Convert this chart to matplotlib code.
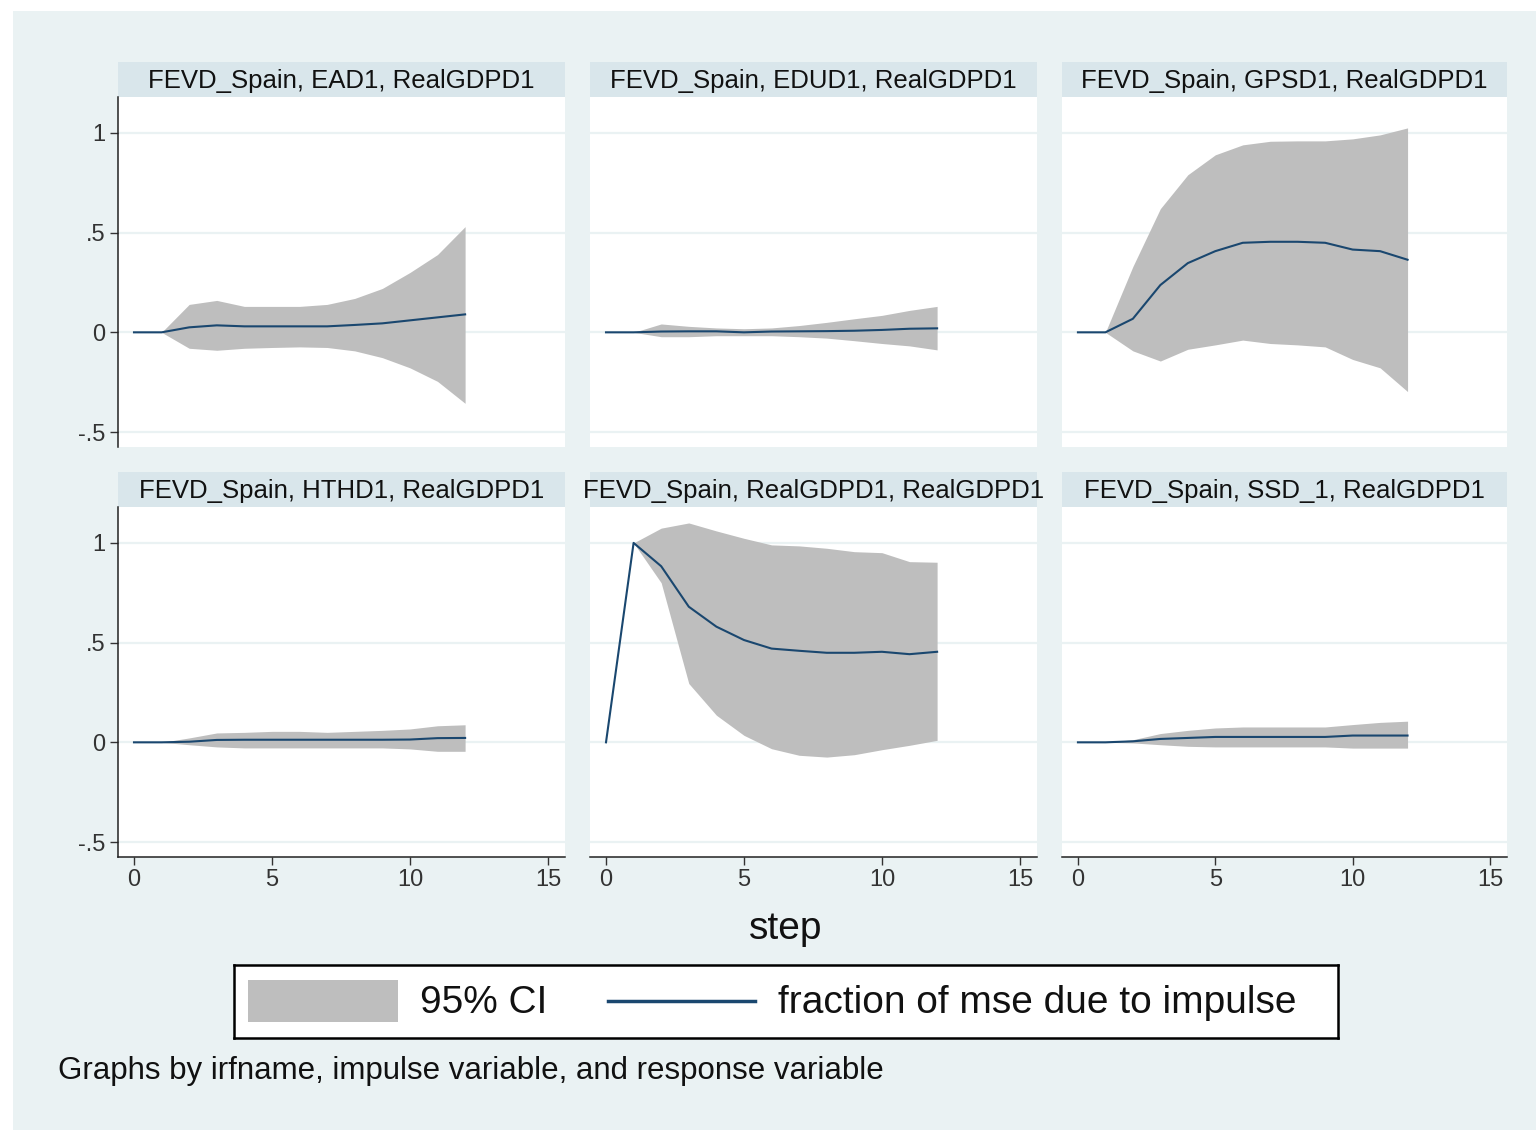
import matplotlib
matplotlib.use("Agg")
import matplotlib.pyplot as plt
from matplotlib.patches import Rectangle
from matplotlib.lines import Line2D

plt.rcParams['font.family'] = ['Liberation Sans', 'DejaVu Sans']

# ---------------- data ----------------
steps = list(range(0, 13))
ci_steps = list(range(1, 13))

titles = ["FEVD_Spain, EAD1, RealGDPD1", "FEVD_Spain, EDUD1, RealGDPD1",
          "FEVD_Spain, GPSD1, RealGDPD1", "FEVD_Spain, HTHD1, RealGDPD1",
          "FEVD_Spain, RealGDPD1, RealGDPD1", "FEVD_Spain, SSD_1, RealGDPD1"]

ead_fevd = [0, 0, 0.025, 0.035, 0.03, 0.03, 0.03, 0.03, 0.037, 0.045, 0.06, 0.075, 0.09]
ead_hi = [0, 0.14, 0.16, 0.13, 0.13, 0.13, 0.14, 0.17, 0.22, 0.30, 0.39, 0.53]
ead_lo = [0, -0.08, -0.09, -0.08, -0.076, -0.073, -0.076, -0.093, -0.127, -0.178, -0.246, -0.356]

edu_fevd = [0, 0, 0.004, 0.005, 0.005, 0.0, 0.004, 0.005, 0.006, 0.008, 0.012, 0.018, 0.02]
edu_hi = [0, 0.042, 0.03, 0.022, 0.018, 0.022, 0.034, 0.05, 0.068, 0.085, 0.11, 0.13]
edu_lo = [0, -0.022, -0.022, -0.017, -0.017, -0.017, -0.022, -0.029, -0.042, -0.056, -0.068, -0.088]

gps_fevd = [0, 0, 0.068, 0.237, 0.347, 0.407, 0.449, 0.454, 0.454, 0.449, 0.415, 0.407, 0.364]
gps_hi = [0, 0.33, 0.62, 0.79, 0.89, 0.94, 0.958, 0.96, 0.96, 0.97, 0.99, 1.025]
gps_lo = [0, -0.093, -0.144, -0.085, -0.063, -0.039, -0.056, -0.063, -0.073, -0.136, -0.178, -0.297]

hth_fevd = [0, 0, 0.003, 0.012, 0.013, 0.013, 0.013, 0.013, 0.013, 0.013, 0.014, 0.021, 0.022]
hth_hi = [0, 0.022, 0.047, 0.05, 0.055, 0.055, 0.05, 0.055, 0.06, 0.067, 0.083, 0.088]
hth_lo = [0, -0.012, -0.023, -0.028, -0.028, -0.028, -0.028, -0.028, -0.028, -0.033, -0.045, -0.045]

gdp_fevd = [0, 1.0, 0.883, 0.68, 0.58, 0.513, 0.47, 0.459, 0.449, 0.449, 0.454, 0.442, 0.454]
gdp_hi = [1.0, 1.074, 1.10, 1.06, 1.023, 0.99, 0.985, 0.973, 0.956, 0.951, 0.906, 0.903]
gdp_lo = [1.0, 0.80, 0.295, 0.136, 0.035, -0.032, -0.065, -0.074, -0.062, -0.037, -0.015, 0.01]

ssd_fevd = [0, 0, 0.005, 0.017, 0.022, 0.027, 0.027, 0.027, 0.027, 0.027, 0.034, 0.034, 0.034]
ssd_hi = [0, 0.013, 0.044, 0.06, 0.072, 0.077, 0.077, 0.077, 0.077, 0.089, 0.1, 0.106]
ssd_lo = [0, -0.003, -0.012, -0.02, -0.023, -0.023, -0.023, -0.023, -0.023, -0.029, -0.029, -0.029]

fevd = [ead_fevd, edu_fevd, gps_fevd, hth_fevd, gdp_fevd, ssd_fevd]
hi = [ead_hi, edu_hi, gps_hi, hth_hi, gdp_hi, ssd_hi]
lo = [ead_lo, edu_lo, gps_lo, hth_lo, gdp_lo, ssd_lo]

yticks = [-0.5, 0, 0.5, 1]
ytick_labels = ["-.5", "0", ".5", "1"]
xticks = [0, 5, 10, 15]
xtick_labels = ["0", "5", "10", "15"]

# ---------------- style ----------------
W, H = 1536, 1130
BG = "#EAF2F3"
STRIP = "#D9E6EB"
CI_COL = "#BEBEBE"
LINE_COL = "#1A476F"

fig = plt.figure(figsize=(W / 100, H / 100), dpi=100)
fig.patch.set_facecolor(BG)


def rect(x0, y0, x1, y1):
    return [x0 / W, 1 - y1 / H, (x1 - x0) / W, (y1 - y0) / H]


# white outer margins (top and left)
fig.patches.append(Rectangle((0, 1 - 11 / H), 1, 11 / H, transform=fig.transFigure,
                             facecolor="white", edgecolor="none", zorder=0))
fig.patches.append(Rectangle((0, 0), 13 / W, 1, transform=fig.transFigure,
                             facecolor="white", edgecolor="none", zorder=0))

col_x = [(118, 565), (590, 1037), (1062, 1507)]
row_y = [(62, 97, 447), (472, 507, 857)]

for i in range(6):
    r, c = divmod(i, 3)
    x0, x1 = col_x[c]
    ty0, py0, py1 = row_y[r]

    # title strip
    tax = fig.add_axes(rect(x0, ty0, x1, py0))
    tax.set_facecolor(STRIP)
    tax.set_xticks([]); tax.set_yticks([])
    for s in tax.spines.values():
        s.set_visible(False)
    tax.text(0.5, 0.47, titles[i], ha="center", va="center", fontsize=18.5,
             color="#111111", transform=tax.transAxes)

    ax = fig.add_axes(rect(x0, py0, x1, py1))
    ax.set_facecolor("white")
    ax.set_xlim(-0.58, 15.62)
    ax.set_ylim(-0.575, 1.18)
    for yv in yticks:
        ax.axhline(yv, color=BG, lw=1.6, zorder=0)

    ax.fill_between(ci_steps, lo[i], hi[i], color=CI_COL, lw=0, zorder=1)
    ax.plot(steps, fevd[i], color=LINE_COL, lw=1.5, zorder=2)

    for s in ["top", "right"]:
        ax.spines[s].set_visible(False)
    ax.spines["left"].set_visible(c == 0)
    ax.spines["bottom"].set_visible(r == 1)
    ax.spines["left"].set_color("#222222")
    ax.spines["bottom"].set_color("#222222")
    ax.spines["left"].set_linewidth(1.1)
    ax.spines["bottom"].set_linewidth(1.1)

    if c == 0:
        ax.set_yticks(yticks)
        ax.set_yticklabels(ytick_labels)
        ax.tick_params(axis="y", direction="out", length=6, width=1, pad=3,
                       labelsize=17, colors="#333333")
    else:
        ax.set_yticks([])
    if r == 1:
        ax.set_xticks(xticks)
        ax.set_xticklabels(xtick_labels)
        ax.tick_params(axis="x", direction="out", length=6, width=1, pad=3,
                       labelsize=17, colors="#333333")
    else:
        ax.set_xticks([])

# x-axis title
fig.text(786 / W, 1 - 929 / H, "step", ha="center", va="center", fontsize=28,
         color="#111111")

# legend box
lax = fig.add_axes(rect(234, 965, 1338, 1038))
lax.set_facecolor("white")
lax.set_xlim(234, 1338)
lax.set_ylim(1038, 965)
lax.set_xticks([]); lax.set_yticks([])
for s in lax.spines.values():
    s.set_color("black")
    s.set_linewidth(1.8)
lax.add_patch(Rectangle((248, 980), 150, 42, facecolor=CI_COL, edgecolor="none"))
lax.text(420, 1003, "95% CI", ha="left", va="center", fontsize=28, color="#111111")
lax.add_line(Line2D([608, 755], [1001, 1001], color=LINE_COL, lw=2.5))
lax.text(778, 1003, "fraction of mse due to impulse", ha="left", va="center",
         fontsize=28, color="#111111")

# note
fig.text(58 / W, 1 - 1071 / H, "Graphs by irfname, impulse variable, and response variable",
         ha="left", va="center", fontsize=22.5, color="#111111")

fig.savefig("out.png", dpi=100, facecolor=fig.get_facecolor())
